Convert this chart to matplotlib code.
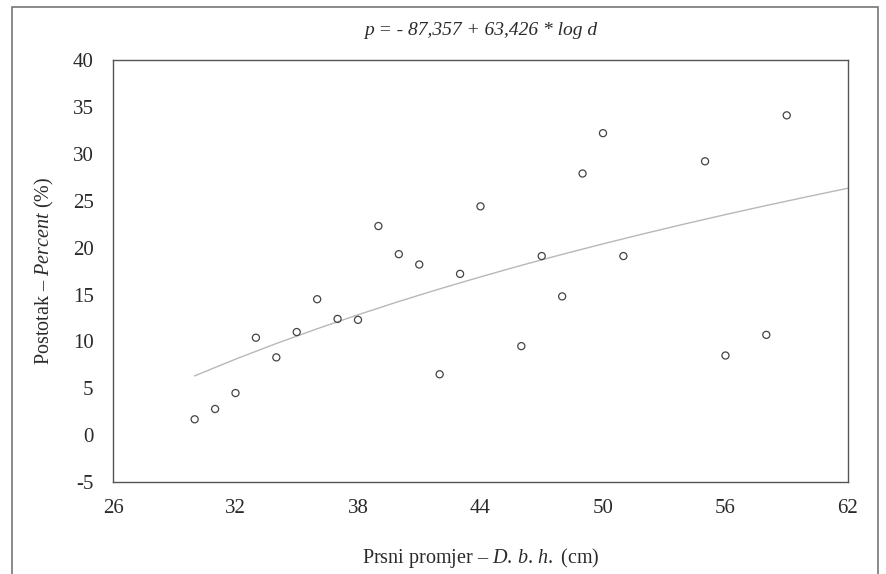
import matplotlib.pyplot as plt
from matplotlib.patches import Rectangle

# Data
dbh = [30, 31, 32, 33, 34, 35, 36, 37, 38, 39, 40, 41, 42, 43, 44,
       46, 47, 48, 49, 50, 51, 55, 56, 58, 59]
percent = [1.7, 2.8, 4.5, 10.4, 8.3, 11.0, 14.5, 12.4, 12.3, 22.3, 19.3, 18.2, 6.5, 17.2, 24.4,
           9.5, 19.1, 14.8, 27.9, 32.2, 19.1, 29.2, 8.5, 10.7, 34.1]

# Fitted curve p = -87.357 + 63.426 * log d, read at 2 cm steps
curve_d = [30, 32, 34, 36, 38, 40, 42, 44, 46, 48, 50, 52, 54, 56, 58, 60, 62]
curve_p = [6.33, 8.11, 9.78, 11.35, 12.84, 14.26, 15.60, 16.88, 18.11,
           19.28, 20.40, 21.48, 22.52, 23.52, 24.49, 25.42, 26.33]

x_ticks = [26, 32, 38, 44, 50, 56, 62]
y_ticks = [-5, 0, 5, 10, 15, 20, 25, 30, 35, 40]

plt.rcParams['font.family'] = ['Liberation Serif', 'DejaVu Serif']
plt.rcParams['mathtext.fontset'] = 'custom'
plt.rcParams['mathtext.rm'] = 'Liberation Serif'
plt.rcParams['mathtext.it'] = 'Liberation Serif:italic'
plt.rcParams['axes.unicode_minus'] = False

fig = plt.figure(figsize=(8.87, 5.74), dpi=100)
ax = fig.add_axes([0.1274, 0.160, 0.8286, 0.7355])

# outer frame of the figure
fig.patches.append(Rectangle((12 / 887, -0.01), 866 / 887, 1 - 7 / 574 + 0.01,
                             transform=fig.transFigure, fill=False,
                             edgecolor='#777777', linewidth=1.2))

ax.plot(curve_d, curve_p, color='#b8b8b8', linewidth=1.0, zorder=2)
ax.scatter(dbh, percent, s=26, facecolors='none', edgecolors='#444444',
           linewidths=0.9, zorder=3)

ax.set_xlim(26, 62)
ax.set_ylim(-5, 40)
ax.set_xticks(x_ticks)
ax.set_yticks(y_ticks)
ax.tick_params(length=0, labelsize=15, colors='#2a2a2a')
ax.tick_params(axis='x', pad=12)
ax.tick_params(axis='y', pad=14)
for s in ax.spines.values():
    s.set_color('#555555')
    s.set_linewidth(1.0)

ax.set_title('p = - 87,357 + 63,426 * log d', style='italic', fontsize=14,
             color='#2a2a2a', pad=18)
ax.set_xlabel(r'Prsni promjer – $\mathit{D.\,b.\,h.}$ (cm)', fontsize=14.5,
              color='#2a2a2a', labelpad=20)
ax.set_ylabel(r'Postotak – $\mathit{Percent}$ (%)', fontsize=14.5,
              color='#2a2a2a', labelpad=12)

fig.savefig('out.png', dpi=100)
